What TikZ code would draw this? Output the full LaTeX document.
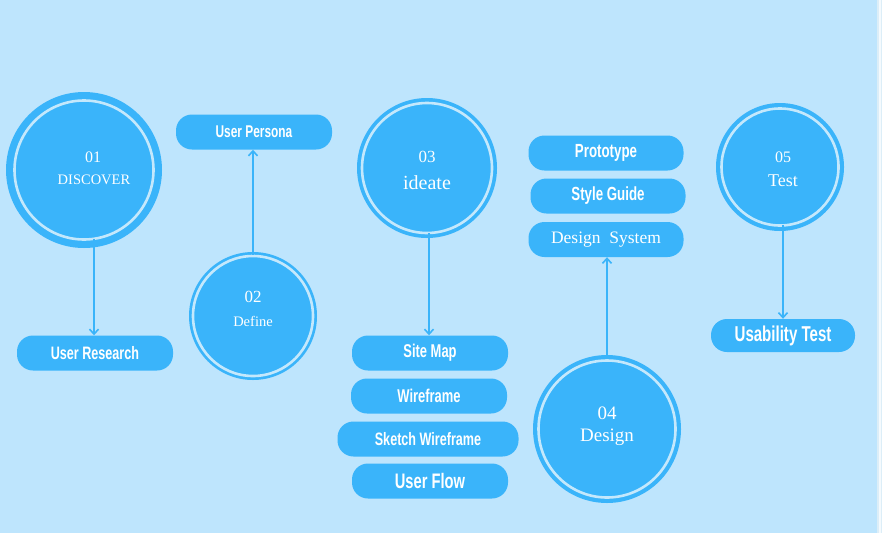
\documentclass[tikz,border=0pt]{standalone}
\usepackage{fontspec}
\setmainfont{Liberation Serif}
\newfontfamily\pillfont{Liberation Sans}[FakeStretch=0.70]
\usetikzlibrary{arrows.meta}
\definecolor{bg}{HTML}{BEE5FD}
\definecolor{main}{HTML}{3AB4FA}
\definecolor{ring}{HTML}{C4E8FC}
\definecolor{edge}{HTML}{DCEEF8}
\newcommand{\pf}[1]{\pillfont\bfseries\fontsize{#1}{#1}\selectfont}
\tikzset{
  outer/.style={circle,fill=main,inner sep=0pt,minimum size=#1},
  ringc/.style={circle,draw=ring,line width=2.6pt,inner sep=0pt,minimum size=#1},
  lbl/.style={text=white,inner sep=0pt},
  pill/.style={fill=main,rounded corners=16pt,text=white,inner sep=0pt,
    minimum height=35pt,font=\pf{18}},
  conn/.style={draw=main,line width=1.6pt,-{Straight Barb[length=5pt,width=9pt,line width=1.6pt]}}
}
\begin{document}
\begin{tikzpicture}[x=1pt,y=-1pt]
\fill[bg] (0,0) rectangle (882,533);
\useasboundingbox (0,0) rectangle (882,533);
\fill[edge] (877,0) rectangle (882,533);
\fill[white!70!edge] (879,0) rectangle (880.5,533);

% circles
\node[outer=156pt] (c1) at (84,170) {};
\node[ringc=139pt] (r1) at (84,170) {};
\node[outer=128pt] (c2) at (253,316) {};
\node[ringc=120pt] (r2) at (253,316) {};
\node[outer=140pt] (c3) at (427,168) {};
\node[ringc=130pt] (r3) at (427,168) {};
\node[outer=148pt] (c4) at (607,429) {};
\node[ringc=137pt] (r4) at (607,429) {};
\node[outer=128pt] (c5) at (780,167) {};
\node[ringc=117pt] (r5) at (780,167) {};

% circle texts
\node[lbl,font=\fontsize{16}{17}\selectfont] (n1) at (93,157) {01};
\node[lbl,font=\fontsize{14.5}{16}\selectfont] (t1) at (94,180) {DISCOVER};
\node[lbl,font=\fontsize{17}{19}\selectfont] (n2) at (253,297) {02};
\node[lbl,font=\fontsize{14.5}{16}\selectfont] (t2) at (253,321) {Define};
\node[lbl,font=\fontsize{17}{19}\selectfont] (n3) at (427,157) {03};
\node[lbl,font=\fontsize{20}{22}\selectfont] (t3) at (427,183) {ideate};
\node[lbl,font=\fontsize{19}{21}\selectfont] (n4) at (607,413) {04};
\node[lbl,font=\fontsize{19}{21}\selectfont] (t4) at (607,437) {Design};
\node[lbl,font=\fontsize{16}{18}\selectfont] (n5) at (783,157) {05};
\node[lbl,font=\fontsize{18}{20}\selectfont] (t5) at (783,181) {Test};

% pills
\node[pill,minimum width=156pt,font=\pf{17}] (p1) at (254,132) {User Persona};
\node[pill,minimum width=156pt,font=\pf{18}] (p2) at (95,353) {User Research};
\node[pill,minimum width=156pt,font=\pf{18.5}] (p3) at (430,353) {Site Map};
\node[pill,minimum width=156pt,font=\pf{18.5}] (p4) at (429,396) {Wireframe};
\node[pill,minimum width=181pt,font=\pf{18}] (p5) at (428,439) {Sketch Wireframe};
\node[pill,minimum width=156pt,font=\pf{21}] (p6) at (430,481) {User Flow};
\node[pill,minimum width=155pt,font=\pf{19}] (p7) at (606,153) {Prototype};
\node[pill,minimum width=155pt,font=\pf{19}] (p8) at (608,196) {Style Guide};
\node[pill,minimum width=155pt,font=\fontsize{17.5}{19}\selectfont] (p9) at (606,239.5) {Design~ System};
\node[pill,minimum width=144pt,minimum height=33pt,font=\pf{21.5}] (p10) at (783,335.5) {Usability Test};

% connectors
\draw[conn] (94,239) -- (p2.north -| 94,0);
\draw[conn] (r2.north) -- (p1.south -| r2.north);
\draw[conn] (429,233) -- (p3.north -| 429,0);
\draw[conn] (r4.north) -- (p9.south -| r4.north);
\draw[conn] (783,225) -- (p10.north -| 783,0);
\end{tikzpicture}
\end{document}
